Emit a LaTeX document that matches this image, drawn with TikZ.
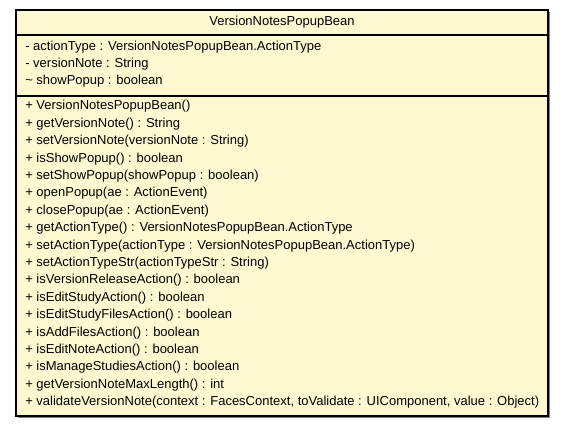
\documentclass[tikz,border=0pt]{standalone}
\usepackage{fontspec}
\setmainfont{Liberation Sans}
\definecolor{classfill}{RGB}{255,249,210}
\definecolor{shadowgray}{RGB}{128,128,128}

\begin{document}
\begin{tikzpicture}[x=0.75pt,y=-0.75pt,line cap=rect,line join=miter,every node/.style={inner sep=0pt,font=\fontsize{9.75}{11}\selectfont}]
  \def\lft{16}
  \def\rgt{548}
  \def\tp{10}
  \def\bt{416}
  \def\tx{25}
  \useasboundingbox (0,0) rectangle (564,427);
  % shadow and box
  \fill[shadowgray] (\lft+2,\tp+2) rectangle (\rgt+2,\bt+2);
  \draw[fill=classfill,line width=1pt] (\lft,\tp) rectangle (\rgt,\bt);
  \draw[line width=1pt] (\lft,35) -- (\rgt,35);
  \draw[line width=1pt] (\lft,96) -- (\rgt,96);
  % title
  \node (title) at (282,22.5) {VersionNotesPopupBean};
  % attributes
  \node[anchor=west] (a1) at (\tx,47) {- actionType : VersionNotesPopupBean.ActionType};
  \node[anchor=west] (a2) at (\tx,64) {- versionNote : String};
  \node[anchor=west] (a3) at (\tx,81.5) {\textasciitilde{} showPopup : boolean};
  % operations
  \foreach \op [count=\i] in {
    {+ VersionNotesPopupBean()},
    {+ getVersionNote() : String},
    {+ setVersionNote(versionNote : String)},
    {+ isShowPopup() : boolean},
    {+ setShowPopup(showPopup : boolean)},
    {+ openPopup(ae : ActionEvent)},
    {+ closePopup(ae : ActionEvent)},
    {+ getActionType() : VersionNotesPopupBean.ActionType},
    {+ setActionType(actionType : VersionNotesPopupBean.ActionType)},
    {+ setActionTypeStr(actionTypeStr : String)},
    {+ isVersionReleaseAction() : boolean},
    {+ isEditStudyAction() : boolean},
    {+ isEditStudyFilesAction() : boolean},
    {+ isAddFilesAction() : boolean},
    {+ isEditNoteAction() : boolean},
    {+ isManageStudiesAction() : boolean},
    {+ getVersionNoteMaxLength() : int},
    {+ validateVersionNote(context : FacesContext, toValidate : UIComponent, value : Object)}}
    \node[anchor=west] (m\i) at (\tx,{106.5+17.4*(\i-1)}) {\op};
\end{tikzpicture}
\end{document}
